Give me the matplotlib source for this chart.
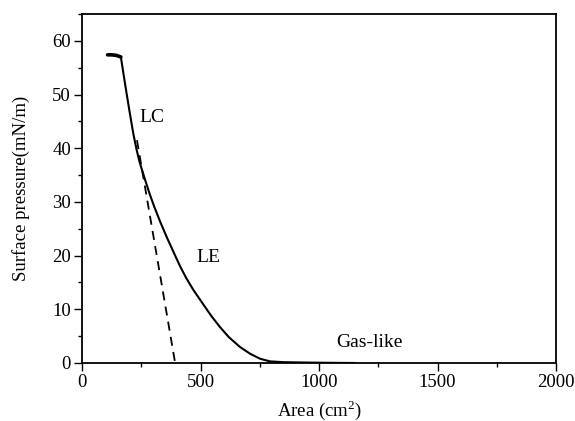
import matplotlib.pyplot as plt
from matplotlib.ticker import MultipleLocator

# isotherm
area = [108, 125, 145, 164, 182, 200, 217, 230, 242, 255, 270, 287, 305, 330,
        360, 390, 414, 440, 470, 512, 545, 582, 620, 666, 710, 751, 793, 850,
        950, 1050, 1150]
pressure = [57.4, 57.4, 57.3, 57.0, 51.9, 47.0, 42.6, 39.8, 37.6, 35.7, 33.6,
            31.3, 29.1, 26.3, 23.2, 20.3, 18.0, 15.8, 13.6, 10.9, 8.8, 6.7,
            4.8, 3.0, 1.7, 0.8, 0.3, 0.15, 0.08, 0.03, 0.0]

# extrapolation of the LC region to zero pressure
lc_area = [232, 393]
lc_pressure = [41.5, 0.0]

labels = ["LC", "LE", "Gas-like"]
label_x = [243, 481, 1071]
label_y = [45.7, 19.6, 3.9]

plt.rcParams['font.family'] = ['Liberation Serif', 'DejaVu Serif']

fig = plt.figure(figsize=(5.75, 4.21), dpi=100)
ax = fig.add_axes([0.1426, 0.1378, 0.967 - 0.1426, 0.9667 - 0.1378])

ax.plot(area[:4], pressure[:4], color="black", lw=2.6, solid_capstyle="round")
ax.plot(area[3:], pressure[3:], color="black", lw=1.5)
ax.plot(lc_area, lc_pressure, color="black", lw=1.3, linestyle=(0, (5, 3.5)))

for txt, x, y in zip(labels, label_x, label_y):
    ax.text(x, y, txt, fontsize=14, ha="left", va="center")

ax.set_xlim(0, 2000)
ax.set_ylim(0, 65)
ax.xaxis.set_major_locator(MultipleLocator(500))
ax.xaxis.set_minor_locator(MultipleLocator(250))
ax.yaxis.set_major_locator(MultipleLocator(10))
ax.yaxis.set_minor_locator(MultipleLocator(5))
ax.tick_params(which="major", direction="out", length=6, width=1,
               labelsize=13.5, pad=2)
ax.tick_params(which="minor", direction="out", length=3, width=1)
for s in ax.spines.values():
    s.set_linewidth(1.3)

ax.set_xlabel("Area (cm$^{\\mathregular{2}}$)", fontsize=13.5, labelpad=5)
ax.set_ylabel("Surface pressure(mN/m)", fontsize=13.5, labelpad=16)

fig.savefig("out.png", dpi=100)
